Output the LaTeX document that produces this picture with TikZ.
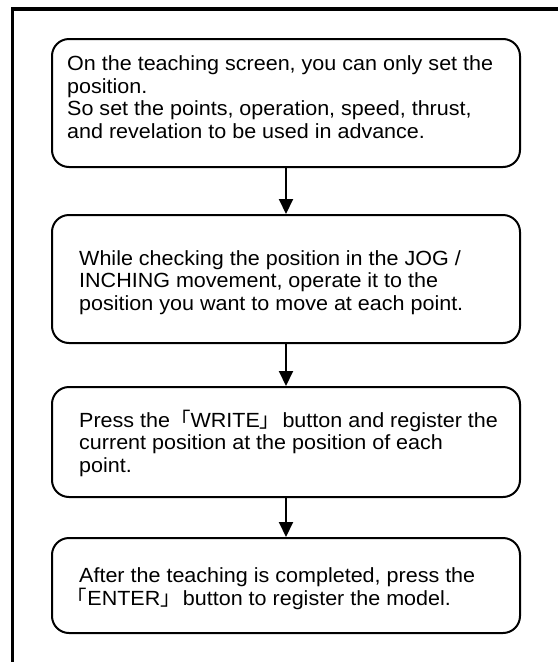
\documentclass[tikz,border=0pt]{standalone}
\usepackage{fontspec}
\setmainfont{Liberation Sans}[FakeStretch=1.05]
\newfontfamily\cjk{Noto Sans CJK JP}
\usetikzlibrary{arrows.meta}
\newcommand{\lbr}{{\cjk 「}}
\newcommand{\rbr}{{\cjk 」}}
\tikzset{
  stepbox/.style={draw, line width=2pt, rounded corners=17pt, minimum width=468pt, inner sep=0pt},
  steptext/.style={anchor=base west, align=left, inner sep=0pt, font=\fontsize{20.5}{22.5}\selectfont},
  flow/.style={line width=2pt, -{Triangle[width=14pt,length=15pt]}},
  frame/.style={line width=3.5pt}
}
\begin{document}
\begin{tikzpicture}[x=1pt, y=-1pt]
\useasboundingbox (0,0) rectangle (558,662);
\clip (0,0) rectangle (558,662);
% outer frame (continues past the right and lower edges)
\coordinate (fbl) at (12.5,662);
\coordinate (ftl) at (12.5,9);
\coordinate (ftr) at (558,9);
\draw[frame] (fbl) -- (ftl) -- (ftr);
% step boxes
\node[stepbox, minimum height=128pt] (b1) at (286,103) {};
\node[stepbox, minimum height=128pt] (b2) at (286,279) {};
\node[stepbox, minimum height=110pt] (b3) at (286,442) {};
\node[stepbox, minimum height=95pt]  (b4) at (286,585.5) {};
% step texts (anchored at the baseline of their last line)
\node[steptext] (t1) at (67,138) {On the teaching screen, you can only set the\\position.\\So set the points, operation, speed, thrust,\\and revelation to be used in advance.};
\node[steptext] (t2) at (79,310) {While checking the position in the JOG /\\INCHING movement, operate it to the\\position you want to move at each point.};
\node[steptext] (t3) at (79,472) {Press the\lbr WRITE\rbr\hspace{0.1em}button and register the\\current position at the position of each\\point.};
\node[steptext] (t4) at (79,605) {After the teaching is completed, press the\\\hspace*{-0.6em}\lbr ENTER\rbr\hspace{0.1em}button to register the model.};
% connectors
\draw[flow] (b1.south) -- (b2.north);
\draw[flow] (b2.south) -- (b3.north);
\draw[flow] (b3.south) -- (b4.north);
\end{tikzpicture}
\end{document}
